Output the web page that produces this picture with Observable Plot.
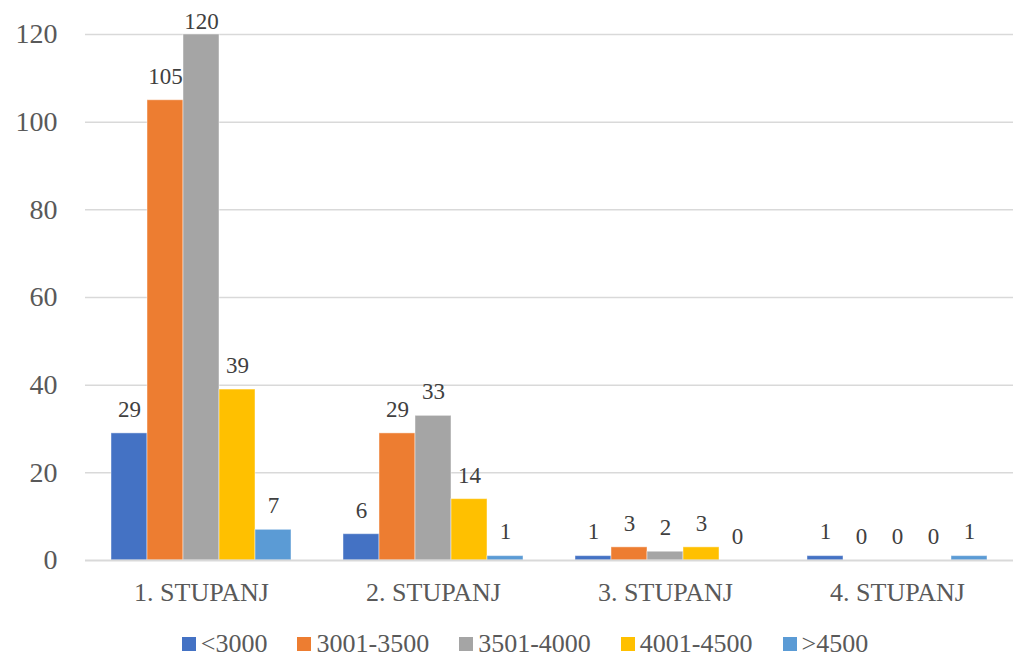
<!DOCTYPE html>
<html>
<head>
<meta charset="utf-8">
<script src="https://cdn.jsdelivr.net/npm/d3@7"></script>
<script src="https://cdn.jsdelivr.net/npm/@observablehq/plot@0.6"></script>
<style>
  body { margin: 0; background: #fff; font-family: "Liberation Serif", "Times New Roman", Tinos, "DejaVu Serif", serif; }
  #legend { display: flex; justify-content: center; align-items: center; padding-left: 36px; margin-top: 14px; height: 30px; font-size: 26px; color: #595959; }
  .item { display: flex; align-items: center; margin: 0 15px; }
  .sw { width: 14px; height: 14px; margin-right: 5px; }
  svg text { font-family: "Liberation Serif", "Times New Roman", Tinos, "DejaVu Serif", serif !important; }
</style>
</head>
<body>
<div id="chart"></div>
<div id="legend"></div>
<script>
const groups = ["1. STUPANJ", "2. STUPANJ", "3. STUPANJ", "4. STUPANJ"];
const series = ["<3000", "3001-3500", "3501-4000", "4001-4500", ">4500"];
const colors = ["#4472C4", "#ED7D31", "#A5A5A5", "#FFC000", "#5B9BD5"];
const vLt3000 = [29, 6, 1, 1];
const v3001 = [105, 29, 3, 0];
const v3501 = [120, 33, 2, 0];
const v4001 = [39, 14, 3, 0];
const vGt4500 = [7, 1, 0, 1];
const yTicks = [0, 20, 40, 60, 80, 100, 120];

const valuesBySeries = [vLt3000, v3001, v3501, v4001, vGt4500];
const data = [];
groups.forEach((g, gi) => {
  series.forEach((s, si) => {
    data.push({group: g, series: s, value: valuesBySeries[si][gi]});
  });
});

const chart = Plot.plot({
  width: 1014,
  height: 615,
  marginTop: 34,
  marginBottom: 55,
  marginLeft: 85,
  marginRight: 1,
  style: {fontFamily: "'Liberation Serif', 'Times New Roman', Tinos, 'DejaVu Serif', serif", background: "#fff"},
  fx: {domain: groups, padding: 0, axis: null},
  x: {domain: series, paddingInner: 0, paddingOuter: 0.7, axis: null},
  y: {domain: [0, 120], axis: null},
  color: {domain: series, range: colors},
  marks: [
    Plot.gridY(yTicks.slice(1), {stroke: "#d9d9d9", strokeOpacity: 1, strokeWidth: 1.5}),
    Plot.barY(data, {fx: "group", x: "series", y: "value", fill: "series", stroke: "white", strokeOpacity: 0.45, strokeWidth: 1}),
    Plot.ruleY([0], {stroke: "#d9d9d9", strokeWidth: 2}),
    Plot.text(data, {fx: "group", x: "series", y: d => Math.min(d.value, 117.4), text: d => String(d.value), dy: -24, fontSize: 23, fill: "#404040"}),
    Plot.axisY({ticks: yTicks, tickSize: 0, tickPadding: 28, fontSize: 28, fill: "#595959", label: null}),
    Plot.axisFx({anchor: "bottom", tickSize: 0, tickPadding: 22, fontSize: 26, fill: "#595959", label: null})
  ]
});
document.getElementById("chart").appendChild(chart);

const legend = document.getElementById("legend");
series.forEach((s, i) => {
  const item = document.createElement("div");
  item.className = "item";
  const sw = document.createElement("span");
  sw.className = "sw";
  sw.style.background = colors[i];
  const t = document.createElement("span");
  t.textContent = s;
  item.appendChild(sw);
  item.appendChild(t);
  legend.appendChild(item);
});
</script>
</body>
</html>
